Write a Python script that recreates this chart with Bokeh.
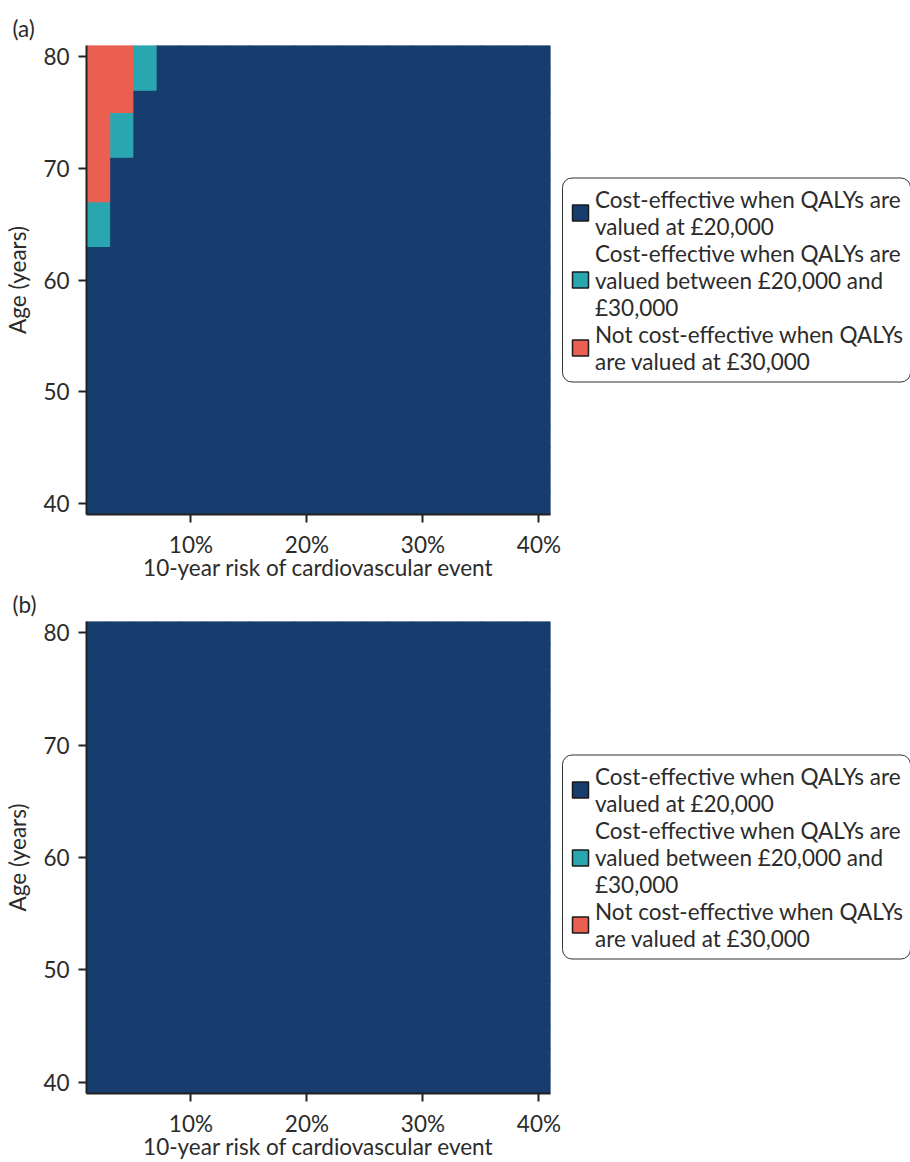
from bokeh.plotting import figure
from bokeh.models import (ColumnDataSource, Range1d, FixedTicker, Legend, LegendItem, Title)
from bokeh.layouts import column
from bokeh.embed import file_html
from bokeh.resources import INLINE

# ---------------- data ----------------
risk_levels = [2, 4, 6, 8, 10, 12, 14, 16, 18, 20, 22, 24, 26, 28, 30, 32, 34, 36, 38, 40]
age_levels_top_down = [80, 78, 76, 74, 72, 70, 68, 66, 64, 62, 60, 58, 56, 54, 52, 50, 48, 46, 44, 42, 40]

# N = cost-effective at £20,000; T = between £20,000 and £30,000; R = not cost-effective at £30,000
panel_a_rows = [
    "RRTNNNNNNNNNNNNNNNNN",  # 80
    "RRTNNNNNNNNNNNNNNNNN",  # 78
    "RRNNNNNNNNNNNNNNNNNN",  # 76
    "RTNNNNNNNNNNNNNNNNNN",  # 74
    "RTNNNNNNNNNNNNNNNNNN",  # 72
    "RNNNNNNNNNNNNNNNNNNN",  # 70
    "RNNNNNNNNNNNNNNNNNNN",  # 68
    "TNNNNNNNNNNNNNNNNNNN",  # 66
    "TNNNNNNNNNNNNNNNNNNN",  # 64
    "NNNNNNNNNNNNNNNNNNNN",  # 62
    "NNNNNNNNNNNNNNNNNNNN",  # 60
    "NNNNNNNNNNNNNNNNNNNN",  # 58
    "NNNNNNNNNNNNNNNNNNNN",  # 56
    "NNNNNNNNNNNNNNNNNNNN",  # 54
    "NNNNNNNNNNNNNNNNNNNN",  # 52
    "NNNNNNNNNNNNNNNNNNNN",  # 50
    "NNNNNNNNNNNNNNNNNNNN",  # 48
    "NNNNNNNNNNNNNNNNNNNN",  # 46
    "NNNNNNNNNNNNNNNNNNNN",  # 44
    "NNNNNNNNNNNNNNNNNNNN",  # 42
    "NNNNNNNNNNNNNNNNNNNN",  # 40
]
panel_b_rows = [
    "NNNNNNNNNNNNNNNNNNNN",  # 80
    "NNNNNNNNNNNNNNNNNNNN",  # 78
    "NNNNNNNNNNNNNNNNNNNN",  # 76
    "NNNNNNNNNNNNNNNNNNNN",  # 74
    "NNNNNNNNNNNNNNNNNNNN",  # 72
    "NNNNNNNNNNNNNNNNNNNN",  # 70
    "NNNNNNNNNNNNNNNNNNNN",  # 68
    "NNNNNNNNNNNNNNNNNNNN",  # 66
    "NNNNNNNNNNNNNNNNNNNN",  # 64
    "NNNNNNNNNNNNNNNNNNNN",  # 62
    "NNNNNNNNNNNNNNNNNNNN",  # 60
    "NNNNNNNNNNNNNNNNNNNN",  # 58
    "NNNNNNNNNNNNNNNNNNNN",  # 56
    "NNNNNNNNNNNNNNNNNNNN",  # 54
    "NNNNNNNNNNNNNNNNNNNN",  # 52
    "NNNNNNNNNNNNNNNNNNNN",  # 50
    "NNNNNNNNNNNNNNNNNNNN",  # 48
    "NNNNNNNNNNNNNNNNNNNN",  # 46
    "NNNNNNNNNNNNNNNNNNNN",  # 44
    "NNNNNNNNNNNNNNNNNNNN",  # 42
    "NNNNNNNNNNNNNNNNNNNN",  # 40
]

category_codes = ["N", "T", "R"]
category_labels = [
    "Cost-effective when QALYs are\nvalued at £20,000",
    "Cost-effective when QALYs are\nvalued between £20,000 and\n£30,000",
    "Not cost-effective when QALYs\nare valued at £30,000",
]
category_colors = ["#173c6e", "#2aa6b0", "#eb5f50"]

x_ticks = [10, 20, 30, 40]
x_tick_labels = ["10%", "20%", "30%", "40%"]
y_ticks = [40, 50, 60, 70, 80]

cell_w = 2
cell_h = 2

FONT = "Lato"
FS = "22.5px"
TXT = "#2b2b2b"
AX = "#222222"


def make_panel(tag, rows, height, top_border):
    p = figure(output_backend="svg", toolbar_location=None,
               frame_width=464, height=height,
               x_range=Range1d(1, 41), y_range=Range1d(39, 81),
               min_border_left=86, min_border_right=0,
               min_border_top=top_border, min_border_bottom=0,
               background_fill_color="white", border_fill_color="white")
    p.outline_line_color = None
    p.grid.visible = False

    all_x, all_y = [], []
    for age, row in zip(age_levels_top_down, rows):
        for risk, c in zip(risk_levels, row):
            all_x.append(risk)
            all_y.append(age)
    all_src = ColumnDataSource(dict(x=all_x, y=all_y))

    for code, color in zip(category_codes, category_colors):
        xs, ys = [], []
        for age, row in zip(age_levels_top_down, rows):
            for risk, c in zip(risk_levels, row):
                if c == code:
                    xs.append(risk)
                    ys.append(age)
        src = ColumnDataSource(dict(x=xs, y=ys))
        p.rect(x="x", y="y", width=cell_w, height=cell_h, source=src,
               fill_color=color, line_color=color, line_width=1)

    # legend swatches (hidden renderers over the whole grid, used only for the key)
    items = []
    for lab, color in zip(category_labels, category_colors):
        r = p.rect(x="x", y="y", width=cell_w, height=cell_h, source=all_src,
                   fill_color=color, line_color="#1a1a1a", line_width=1.5,
                   visible=False)
        items.append(LegendItem(label=lab, renderers=[r]))

    legend = Legend(items=items, location="center_left",
                    label_text_font=FONT, label_text_font_size=FS,
                    label_text_color=TXT, label_text_line_height=1.14,
                    glyph_width=20, glyph_height=20, label_standoff=5,
                    padding=7, spacing=0, margin=12,
                    border_line_color="#333333", border_line_width=1.5,
                    border_line_alpha=1.0, border_radius=10,
                    background_fill_color="white", background_fill_alpha=1.0)
    p.add_layout(legend, "right")

    t = Title(text=tag, align="left", offset=-74, text_font=FONT,
              text_font_size=FS, text_font_style="normal",
              text_color=TXT, standoff=8)
    p.add_layout(t, "above")

    for ax in (p.xaxis, p.yaxis):
        ax.axis_line_color = AX
        ax.axis_line_width = 2
        ax.major_tick_line_color = AX
        ax.major_tick_line_width = 2
        ax.major_tick_out = 8
        ax.major_tick_in = 0
        ax.minor_tick_line_color = None
        ax.major_label_text_font = FONT
        ax.major_label_text_font_size = FS
        ax.major_label_text_color = TXT
        ax.axis_label_text_font = FONT
        ax.axis_label_text_font_size = FS
        ax.axis_label_text_font_style = "normal"
        ax.axis_label_text_color = TXT

    p.xaxis.ticker = FixedTicker(ticks=x_ticks)
    p.xaxis.major_label_overrides = dict(zip(x_ticks, x_tick_labels))
    p.xaxis.axis_label = "10-year risk of cardiovascular event"
    p.xaxis.major_label_standoff = 8
    p.xaxis.axis_label_standoff = -7

    p.yaxis.ticker = FixedTicker(ticks=y_ticks)
    p.yaxis.axis_label = "Age (years)"
    p.yaxis.major_label_standoff = 9
    p.yaxis.axis_label_standoff = 9
    return p


pa = make_panel("(a)", panel_a_rows, 583, 45)
pb = make_panel("(b)", panel_b_rows, 579, 38)

layout = column(pa, pb, spacing=0)
open("out.html", "w").write(file_html(layout, INLINE))
